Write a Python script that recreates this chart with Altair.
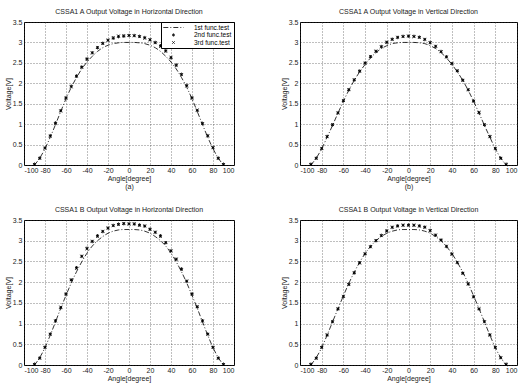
import altair as alt
import pandas as pd

# Measurement angles (degrees)
angles = list(range(-90, 95, 5))

series_names = ["1st func.test", "2nd func.test", "3rd func.test"]

# CSSA1 A, horizontal direction
a_line = [0.00, 0.17, 0.40, 0.68, 0.99, 1.31, 1.62, 1.90, 2.14, 2.35, 2.52, 2.66, 2.78, 2.87, 2.93, 2.97, 2.99, 3.00,
          3.00,
          3.00, 2.99, 2.97, 2.93, 2.87, 2.78, 2.66, 2.52, 2.35, 2.14, 1.90, 1.62, 1.31, 0.99, 0.68, 0.40, 0.17, 0.00]
a_second = [0.02, 0.17, 0.42, 0.72, 1.03, 1.33, 1.65, 1.93, 2.18, 2.40, 2.60, 2.75, 2.87, 2.98, 3.05, 3.10, 3.14, 3.15,
            3.17,
            3.17, 3.15, 3.12, 3.07, 3.00, 2.92, 2.80, 2.62, 2.45, 2.22, 1.95, 1.65, 1.33, 1.02, 0.72, 0.43, 0.17, 0.02]
a_third = [0.01, 0.16, 0.41, 0.70, 1.01, 1.32, 1.63, 1.91, 2.17, 2.39, 2.58, 2.74, 2.88, 2.97, 3.06, 3.12, 3.16, 3.17,
           3.17,
           3.16, 3.14, 3.10, 3.06, 2.99, 2.90, 2.78, 2.64, 2.43, 2.21, 1.93, 1.63, 1.35, 1.01, 0.71, 0.42, 0.16, 0.01]

# CSSA1 A, vertical direction
b_line = [0.00, 0.17, 0.40, 0.68, 0.97, 1.27, 1.56, 1.83, 2.07, 2.28, 2.46, 2.62, 2.75, 2.85, 2.92, 2.97, 2.99, 3.00,
          3.00,
          3.00, 2.99, 2.97, 2.92, 2.85, 2.75, 2.62, 2.46, 2.28, 2.07, 1.83, 1.56, 1.27, 0.97, 0.68, 0.40, 0.17, 0.00]
b_second = [0.02, 0.17, 0.40, 0.70, 0.98, 1.28, 1.57, 1.84, 2.08, 2.30, 2.50, 2.65, 2.78, 2.90, 3.00, 3.08, 3.12, 3.15,
            3.15,
            3.15, 3.13, 3.07, 3.00, 2.90, 2.78, 2.65, 2.48, 2.30, 2.08, 1.84, 1.57, 1.28, 0.98, 0.70, 0.40, 0.17, 0.02]
b_third = [0.01, 0.16, 0.41, 0.69, 0.99, 1.27, 1.58, 1.85, 2.09, 2.29, 2.49, 2.66, 2.79, 2.89, 3.01, 3.07, 3.13, 3.14,
           3.16,
           3.14, 3.12, 3.08, 2.99, 2.91, 2.77, 2.64, 2.49, 2.31, 2.07, 1.85, 1.56, 1.29, 0.99, 0.69, 0.41, 0.16, 0.01]

# CSSA1 B, horizontal direction
c_line = [0.00, 0.18, 0.42, 0.72, 1.04, 1.37, 1.68, 1.98, 2.25, 2.49, 2.70, 2.87, 3.00, 3.10, 3.18, 3.23, 3.26, 3.27,
          3.27,
          3.27, 3.26, 3.23, 3.18, 3.10, 3.00, 2.87, 2.70, 2.49, 2.25, 1.98, 1.68, 1.37, 1.04, 0.72, 0.42, 0.18, 0.00]
c_second = [0.02, 0.17, 0.43, 0.75, 1.07, 1.38, 1.72, 2.05, 2.35, 2.62, 2.82, 2.98, 3.12, 3.22, 3.30, 3.37, 3.40, 3.41,
            3.41,
            3.40, 3.38, 3.35, 3.28, 3.20, 3.12, 2.95, 2.76, 2.55, 2.32, 2.02, 1.72, 1.40, 1.07, 0.75, 0.43, 0.17, 0.02]
c_third = [0.01, 0.16, 0.42, 0.74, 1.06, 1.40, 1.70, 2.06, 2.33, 2.63, 2.80, 2.99, 3.10, 3.23, 3.31, 3.36, 3.39, 3.42,
           3.40,
           3.41, 3.37, 3.36, 3.27, 3.21, 3.10, 2.96, 2.75, 2.56, 2.30, 2.03, 1.70, 1.41, 1.06, 0.74, 0.42, 0.16, 0.01]

# CSSA1 B, vertical direction
d_line = [0.00, 0.18, 0.42, 0.72, 1.04, 1.36, 1.67, 1.97, 2.24, 2.48, 2.69, 2.86, 3.00, 3.10, 3.18, 3.23, 3.26, 3.27,
          3.27,
          3.27, 3.26, 3.23, 3.18, 3.10, 3.00, 2.86, 2.69, 2.48, 2.24, 1.97, 1.67, 1.36, 1.04, 0.72, 0.42, 0.18, 0.00]
d_second = [0.02, 0.17, 0.43, 0.72, 1.05, 1.35, 1.65, 1.95, 2.22, 2.47, 2.68, 2.86, 3.00, 3.13, 3.24, 3.32, 3.36, 3.37,
            3.38,
            3.37, 3.36, 3.33, 3.25, 3.13, 3.02, 2.86, 2.68, 2.47, 2.22, 1.95, 1.65, 1.35, 1.05, 0.73, 0.43, 0.18, 0.02]
d_third = [0.01, 0.16, 0.42, 0.73, 1.04, 1.36, 1.66, 1.94, 2.23, 2.46, 2.69, 2.85, 3.01, 3.12, 3.23, 3.33, 3.35, 3.38,
           3.37,
           3.38, 3.35, 3.32, 3.24, 3.14, 3.01, 2.87, 2.67, 2.48, 2.21, 1.96, 1.64, 1.36, 1.04, 0.72, 0.42, 0.17, 0.01]

x_ticks = [-100, -80, -60, -40, -20, 0, 20, 40, 60, 80, 100]
y_ticks = [0, 0.5, 1, 1.5, 2, 2.5, 3, 3.5]

FONT = "Liberation Sans"

# marker glyphs (custom symbol paths, scaled by the symbol size)
LINE_GLYPH = "M-3.4,0L3.4,0"
STAR_GLYPH = "M0,-0.55L0,0.55M-0.48,-0.28L0.48,0.28M-0.48,0.28L0.48,-0.28"
CROSS_GLYPH = "M-0.45,-0.45L0.45,0.45M-0.45,0.45L0.45,-0.45"

# plain hyphen for negative tick labels
HYPHEN_LABEL = "datum.value < 0 ? '-' + abs(datum.value) : '' + datum.value"


def panel(title, tag, line_vals, second_vals, third_vals, w, h, show_legend):
    df_line = pd.DataFrame({"angle": angles, "v": line_vals, "series": series_names[0]})
    df_pts = pd.concat([
        pd.DataFrame({"angle": angles, "v": second_vals, "series": series_names[1]}),
        pd.DataFrame({"angle": angles, "v": third_vals, "series": series_names[2]}),
    ])
    x = alt.X("angle:Q",
              scale=alt.Scale(domain=[-100, 100], nice=False, zero=False),
              axis=alt.Axis(values=x_ticks, labelOverlap=False, labelExpr=HYPHEN_LABEL,
                            title=["Angle[degree]", tag]))
    y = alt.Y("v:Q",
              scale=alt.Scale(domain=[0, 3.5], nice=False),
              axis=alt.Axis(values=y_ticks, labelOverlap=False, format="~g", title="Voltage[V]"))
    if show_legend:
        legend = alt.Legend(title=None, orient="top-right", offset=0, padding=2,
                            fillColor="white", strokeColor="black",
                            labelFont=FONT, labelFontSize=6.5, labelColor="black",
                            symbolSize=36, symbolStrokeColor="black", symbolStrokeWidth=0.8,
                            symbolFillColor="transparent",
                            symbolOffset=7, labelOffset=17, rowPadding=0.5)
    else:
        legend = None
    shape = alt.Shape("series:N",
                      scale=alt.Scale(domain=series_names, range=[LINE_GLYPH, STAR_GLYPH, CROSS_GLYPH]),
                      legend=legend)
    dash = alt.StrokeDash("series:N",
                          scale=alt.Scale(domain=series_names, range=[[5, 2, 1, 2], [1, 0], [1, 0]]),
                          legend=legend)
    curve = alt.Chart(df_line).mark_line(color="black", strokeWidth=0.8, interpolate="monotone").encode(
        x=x, y=y, strokeDash=dash)
    pts = alt.Chart(df_pts).mark_point(filled=False, color="black", size=36, strokeWidth=0.9, opacity=1).encode(
        x=x, y=y, shape=shape, strokeDash=dash)
    return alt.layer(curve, pts).properties(width=w, height=h, title=title)


pa = panel("CSSA1 A Output Voltage in Horizontal Direction", "(a)", a_line, a_second, a_third, 210, 143, True)
pb = panel("CSSA1 A Output Voltage in Vertical Direction", "(b)", b_line, b_second, b_third, 217, 143, False)
pc = panel("CSSA1 B Output Voltage in Horizontal Direction", "(c)", c_line, c_second, c_third, 210, 145, False)
pd_ = panel("CSSA1 B Output Voltage in Vertical Direction", "(d)", d_line, d_second, d_third, 217, 145, False)

chart = alt.ConcatChart(
    concat=[pa, pb, pc, pd_], columns=2,
    spacing={"row": 55, "column": 66}, bounds="flush",
).resolve_scale(
    shape="independent", strokeDash="independent"
).resolve_legend(
    shape="independent", strokeDash="independent"
).properties(
    padding={"left": 3, "top": 7, "right": 0, "bottom": 0},
    background="white",
).configure_view(
    stroke="black", strokeWidth=1
).configure_title(
    font=FONT, fontSize=7, fontWeight="normal", color="#222", offset=3
).configure_axis(
    grid=True, gridColor="#333", gridDash=[1, 2], gridWidth=0.7, gridOpacity=0.9,
    domain=False, ticks=False,
    labelFont=FONT, labelFontSize=7, labelColor="#222",
    titleFont=FONT, titleFontSize=7, titleFontWeight="normal", titleColor="#222",
).configure_axisX(
    labelPadding=1, titlePadding=1, titleLineHeight=8
).configure_axisY(
    labelPadding=2, titlePadding=1
)

chart.save("out.html", embed_options={"renderer": "svg", "actions": False})
